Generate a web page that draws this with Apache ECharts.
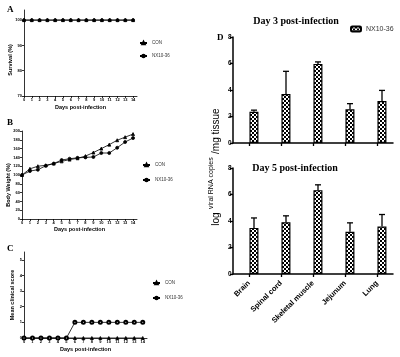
<!DOCTYPE html>
<html><head><meta charset="utf-8">
<script src="https://cdn.jsdelivr.net/npm/echarts/dist/echarts.min.js"></script>
<style>html,body{margin:0;padding:0;background:#fff}#c{width:400px;height:357px}</style>
</head><body><div id="c"></div>
<script>
// ---- data ----
const days = [0,1,2,3,4,5,6,7,8,9,10,11,12,13,14];
const survivalCon = [100,100,100,100,100,100,100,100,100,100,100,100,100,100,100];
const survivalNx  = [100,100,100,100,100,100,100,100,100,100,100,100,100,100,100];
const weightCon = [100,114,120,122,126,131,135,138,143,151,160,169,179,186,193];
const weightNx  = [100,109,112,121,126,134,137,139,140,141,150,150,162,175,184];
const scoreCon = [0,0,0,0,0,0,0,0,0,0,0,0,0,0,0];
const scoreNx  = [0,0,0,0,0,0,1,1,1,1,1,1,1,1,1];
const survivalTicks = [70,80,90,100];
const weightTicks = [0,20,40,60,80,100,120,140,160,180,200];
const scoreTicks = [0,1,2,3,4,5];
const tissues = ['Brain','Spinal cord','Skeletal muscle','Jejunum','Lung'];
const d3Con  = [0,0,0,0,0];
const d3Mean = [2.36,3.70,5.97,2.55,3.17];
const d3Err  = [0.12,1.71,0.15,0.42,0.80];
const d5Con  = [0,0,0,0,0];
const d5Mean = [3.48,3.91,6.33,3.18,3.58];
const d5Err  = [0.75,0.48,0.40,0.68,0.91];

// ---- styles ----
const SANS = 'Liberation Sans';
const SERIF = 'Liberation Serif';
const pat = document.createElement('canvas');
pat.width = 4; pat.height = 4;
const pc = pat.getContext('2d');
pc.fillStyle = '#fff'; pc.fillRect(0,0,4,4);
pc.fillStyle = '#000'; pc.fillRect(0,0,2,2); pc.fillRect(2,2,2,2);
const checker = {image: pat, repeat: 'repeat'};
const ERR_OFFSET = 5;

const thin = {color:'#000', width:0.8};
function lineX(gi, nameGap) {
  return {type:'value', gridIndex:gi, min:0, max:14.5,
    axisLine:{show:true, lineStyle:thin},
    axisTick:{show:true, customValues:days, length:2, lineStyle:thin},
    axisLabel:{customValues:days, fontSize:4, margin:2, color:'#000', fontFamily:SANS, fontWeight:'bold'},
    splitLine:{show:false},
    name:'Days post-infection', nameLocation:'middle', nameGap:nameGap,
    nameTextStyle:{fontSize:5.5, fontWeight:'bold', color:'#000', fontFamily:SANS}};
}
function lineY(gi, min, max, ticks) {
  return {type:'value', gridIndex:gi, min:min, max:max,
    axisLine:{show:true, lineStyle:thin},
    axisTick:{show:true, customValues:ticks, length:2, lineStyle:thin},
    axisLabel:{customValues:ticks, fontSize:4, margin:2, color:'#000', fontFamily:SANS, fontWeight:'bold'},
    splitLine:{show:false}};
}
function lineS(name, vals, gi, symbol) {
  return {type:'line', name:name, xAxisIndex:gi, yAxisIndex:gi,
    data: days.map((d,i)=>[d, vals[i]]), symbol:symbol, symbolSize:3,
    lineStyle:{color:'#000', width:0.8}, itemStyle:{color:'#000', borderColor:'#000', borderWidth:0.8}};
}
function barX(gi, showLabel) {
  return {type:'category', gridIndex:gi, data:tissues,
    axisLine:{show:true, lineStyle:{color:'#000', width:1.5}},
    axisTick:{show:true, alignWithLabel:true, length:3, lineStyle:{color:'#000', width:1.3}},
    axisLabel:{show:showLabel, interval:0, rotate:45, fontSize:7.5, fontWeight:'bold', color:'#000', fontFamily:SANS, margin:8}};
}
function barY(gi) {
  return {type:'value', gridIndex:gi, min:0, max:8, interval:2,
    axisLine:{show:true, lineStyle:{color:'#000', width:1.5}},
    axisTick:{show:true, length:3, lineStyle:{color:'#000', width:1.3}},
    axisLabel:{fontSize:6.5, fontWeight:'bold', color:'#000', fontFamily:SANS, margin:1.5},
    splitLine:{show:false}};
}
function errRender(params, api) {
  const i = api.value(0), m = api.value(1), e = api.value(2);
  const p0 = api.coord([i, m]);
  const p1 = api.coord([i, m + e]);
  const x = p0[0] + ERR_OFFSET;
  const st = {stroke:'#000', lineWidth:1.3};
  return {type:'group', children:[
    {type:'line', shape:{x1:x, y1:p0[1], x2:x, y2:p1[1]}, style:st},
    {type:'line', shape:{x1:x-3, y1:p1[1], x2:x+3, y2:p1[1]}, style:st}
  ]};
}
function barSeries(gi, tag, con, mean, err) {
  return [
    {type:'bar', name:'CON '+tag, xAxisIndex:gi, yAxisIndex:gi, data:con, barWidth:9, barGap:'10%',
      itemStyle:{color:'rgba(0,0,0,0)'}, silent:true},
    {type:'bar', name:'NX10-36 '+tag, xAxisIndex:gi, yAxisIndex:gi, data:mean, barWidth:9, barGap:'10%',
      itemStyle:{color:checker, borderColor:'#000', borderWidth:1.2}},
    {type:'custom', name:'err '+tag, xAxisIndex:gi, yAxisIndex:gi, z:5,
      data: mean.map((m,i)=>[i, m, err[i]]), renderItem:errRender}
  ];
}
const legTxt = {fontSize:4.5, color:'#333', fontFamily:SANS};
function ytitle(txt, x, y, size) {
  return {type:'text', x:x, y:y, rotation:Math.PI/2,
    style:{text:txt, fill:'#000', font:'bold '+size+'px "Liberation Sans"', align:'center', verticalAlign:'middle'}};
}
function letter(t, x, y) {
  return {type:'text', x:x, y:y, style:{text:t, fill:'#000', font:'bold 9px "Liberation Serif"', align:'left', verticalAlign:'middle'}};
}

const option = {
  animation:false,
  backgroundColor:'#fff',
  title:[
    {text:'Day 3 post-infection', left:296, top:16, textAlign:'center', padding:0,
      textStyle:{fontFamily:SERIF, fontWeight:'bold', fontSize:10, color:'#000'}},
    {text:'Day 5 post-infection', left:295, top:163, textAlign:'center', padding:0,
      textStyle:{fontFamily:SERIF, fontWeight:'bold', fontSize:10, color:'#000'}}
  ],
  legend:[
    {left:139, top:40.5, orient:'vertical', itemGap:8, itemWidth:7, itemHeight:3, padding:0,
      data:['CON','NX10-36'], textStyle:legTxt},
    {left:142, top:162.5, orient:'vertical', itemGap:10, itemWidth:7, itemHeight:3, padding:0,
      data:['CON','NX10-36'], textStyle:legTxt},
    {left:152, top:280.5, orient:'vertical', itemGap:10, itemWidth:7, itemHeight:3, padding:0,
      data:['CON','NX10-36'], textStyle:legTxt},
    {left:350, top:25.5, itemWidth:10, itemHeight:5, padding:0,
      data:['NX10-36 D3'], formatter:()=> 'NX10-36', textStyle:{fontSize:7, color:'#333', fontFamily:SANS}}
  ],
  grid:[
    {left:24, top:10, width:113, height:86},
    {left:22, top:131, width:115, height:88},
    {left:24, top:252, width:123, height:86},
    {left:233, top:37, width:160, height:106},
    {left:233, top:168, width:160, height:106}
  ],
  xAxis:[ lineX(0, 8.5), lineX(1, 7), lineX(2, 8.5), barX(3, false), barX(4, true) ],
  yAxis:[ lineY(0, 70, 104, survivalTicks), lineY(1, 0, 200, weightTicks), lineY(2, 0, 5.5, scoreTicks), barY(3), barY(4) ],
  series:[
    lineS('CON', survivalCon, 0, 'triangle'),
    lineS('NX10-36', survivalNx, 0, 'circle'),
    lineS('CON', weightCon, 1, 'triangle'),
    lineS('NX10-36', weightNx, 1, 'circle'),
    lineS('CON', scoreCon, 2, 'triangle'),
    lineS('NX10-36', scoreNx, 2, 'emptyCircle'),
    ...barSeries(3, 'D3', d3Con, d3Mean, d3Err),
    ...barSeries(4, 'D5', d5Con, d5Mean, d5Err)
  ],
  graphic:[
    letter('A', 7, 10), letter('B', 7, 123), letter('C', 7, 249), letter('D', 217, 38),
    ytitle('Survival (%)', 10, 60, 5.5),
    ytitle('Body Weight (%)', 8, 185, 5.5),
    ytitle('Mean clinical score', 12, 295, 5.5),
    {type:'text', x:216, y:167, rotation:Math.PI/2,
      style:{text:'{big|log} {small|viral RNA copies} {big|/mg tissue}', align:'center', verticalAlign:'middle', fill:'#000',
        rich:{big:{fontSize:10, fontFamily:SANS, fill:'#000', lineHeight:16},
              small:{fontSize:7, fontFamily:SANS, fill:'#000', lineHeight:10, verticalAlign:'top'}}}}
  ]
};
const chart = echarts.init(document.getElementById('c'), null, {renderer:'canvas'});
chart.setOption(option);
</script></body></html>
